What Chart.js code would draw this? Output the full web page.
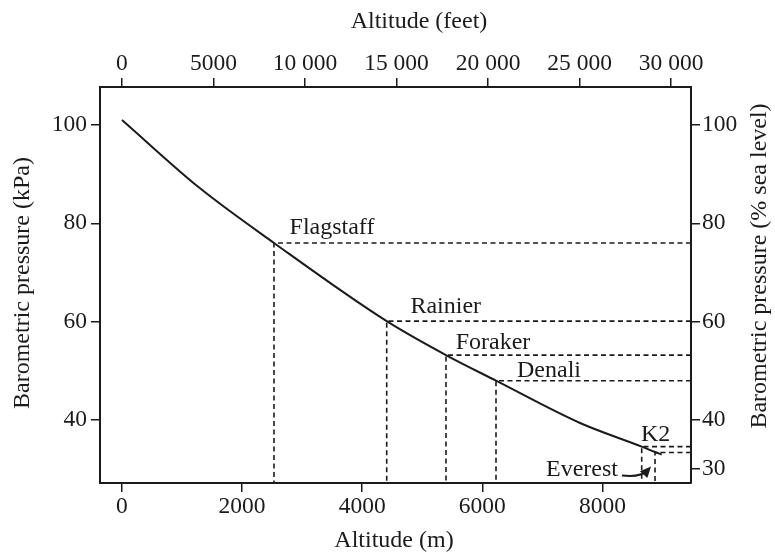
<!DOCTYPE html>
<html lang="en">
<head>
<meta charset="UTF-8">
<title>Barometric pressure vs altitude</title>
<script src="https://cdn.jsdelivr.net/npm/chart.js"></script>
<style>
  body { margin: 0; background: #fff; }
  #wrap { width: 775px; height: 552px; }
</style>
</head>
<body>
<div id="wrap"><canvas id="myChart" width="775" height="552"></canvas></div>
<script>
// curve
const altitudeM = [0, 1300, 2531, 4408, 5395, 6228, 7627, 8654, 8876, 8987];
const pressureKPa = [101.0, 87.1, 76.0, 60.1, 53.2, 48.0, 39.4, 34.6, 33.5, 33.0];

// marked summits
const peakNames = ['Flagstaff', 'Rainier', 'Foraker', 'Denali', 'K2', 'Everest'];
const peakAltM = [2531, 4408, 5395, 6228, 8654, 8876];
const peakKPa = [76.0, 60.1, 53.2, 48.0, 34.6, 33.4];

// tick labels
const ticksM = [0, 2000, 4000, 6000, 8000];
const ticksFeet = [0, 5000, 10000, 15000, 20000, 25000, 30000];
const ticksKPa = [40, 60, 80, 100];
const ticksPct = [30, 40, 60, 80, 100];

const xMin = -366, xMax = 9475;
const yMin = 27.2, yMax = 107.7;
const FT_PER_M = 3.28084;

const ink = '#1b1b1b';
const fontFam = '"Liberation Serif", "Times New Roman", serif';

// label placement relative to each summit corner (px)
const labelOffsets = [
    { dx: 58, dy: -9 },
    { dx: 59, dy: -8 },
    { dx: 47, dy: -6 },
    { dx: 53, dy: -4 },
    { dx: 14, dy: -6 },
    { dx: -73, dy: 23 }
];

function fixTicks(list) {
    return function (scale) {
        scale.ticks = list.map(v => ({ value: v }));
    };
}

function feetLabel(v) {
    const s = String(v);
    return v >= 10000 ? s.slice(0, s.length - 3) + ' ' + s.slice(-3) : s;
}

const peakDatasets = peakNames.map((name, i) => ({
    label: name,
    data: [
        { x: xMax, y: peakKPa[i] },
        { x: peakAltM[i], y: peakKPa[i] },
        { x: peakAltM[i], y: yMin }
    ],
    borderColor: ink,
    borderWidth: 1.6,
    borderDash: [5, 3.5],
    pointRadius: 0,
    fill: false,
    tension: 0,
    xAxisID: 'x',
    yAxisID: 'y'
}));

const textPlugin = {
    id: 'textPlugin',
    afterDraw(chart) {
        const ctx = chart.ctx;
        const x = chart.scales.x, y = chart.scales.y;
        ctx.save();
        ctx.fillStyle = ink;
        ctx.font = '24px ' + fontFam;
        ctx.textAlign = 'center';
        ctx.textBaseline = 'middle';

        // axis titles
        ctx.fillText('Altitude (feet)', 419, 22);
        ctx.fillText('Altitude (m)', 394, 541);

        ctx.save();
        ctx.translate(23, 283);
        ctx.rotate(-Math.PI / 2);
        ctx.fillText('Barometric pressure (kPa)', 0, 0);
        ctx.restore();

        ctx.save();
        ctx.translate(760, 266);
        ctx.rotate(-Math.PI / 2);
        ctx.fillText('Barometric pressure (% sea level)', 0, 0);
        ctx.restore();

        // summit names
        ctx.textBaseline = 'alphabetic';
        peakNames.forEach((name, i) => {
            const px = x.getPixelForValue(peakAltM[i]);
            const py = y.getPixelForValue(peakKPa[i]);
            ctx.fillText(name, px + labelOffsets[i].dx, py + labelOffsets[i].dy);
        });

        // Everest arrow
        const e = peakNames.indexOf('Everest');
        const ex = x.getPixelForValue(peakAltM[e]);
        const ey = y.getPixelForValue(peakKPa[e]);
        const sx = ex - 33, sy = ey + 23;
        const cx = ex - 14, cy = ey + 25;
        const tx = ex - 4, ty = ey + 14;
        ctx.strokeStyle = ink;
        ctx.lineWidth = 2;
        ctx.beginPath();
        ctx.moveTo(sx, sy);
        ctx.quadraticCurveTo(cx, cy, tx - 4, ty + 4);
        ctx.stroke();
        const ang = Math.atan2(ty - cy, tx - cx);
        ctx.beginPath();
        ctx.moveTo(tx, ty);
        ctx.lineTo(tx - 11 * Math.cos(ang) + 5 * Math.sin(ang), ty - 11 * Math.sin(ang) - 5 * Math.cos(ang));
        ctx.lineTo(tx - 11 * Math.cos(ang) - 5 * Math.sin(ang), ty - 11 * Math.sin(ang) + 5 * Math.cos(ang));
        ctx.closePath();
        ctx.fill();
        ctx.restore();
    }
};

const tickFont = { family: fontFam, size: 23.5 };
const gridCfg = { drawOnChartArea: false, drawTicks: true, tickLength: 9, color: ink, lineWidth: 1.5 };
const borderCfg = { display: true, color: ink, width: 2 };

new Chart(document.getElementById('myChart').getContext('2d'), {
    type: 'line',
    data: {
        datasets: [{
            label: 'pressure',
            data: altitudeM.map((a, i) => ({ x: a, y: pressureKPa[i] })),
            borderColor: ink,
            borderWidth: 2,
            pointRadius: 0,
            fill: false,
            cubicInterpolationMode: 'monotone',
            xAxisID: 'x',
            yAxisID: 'y'
        }].concat(peakDatasets)
    },
    options: {
        responsive: false,
        animation: false,
        devicePixelRatio: 1,
        layout: { padding: 0 },
        plugins: { legend: { display: false }, tooltip: { enabled: false } },
        scales: {
            x: {
                type: 'linear', position: 'bottom', min: xMin, max: xMax,
                afterBuildTicks: fixTicks(ticksM),
                afterFit(s) { s.height = 69; },
                grid: gridCfg, border: borderCfg,
                ticks: { font: tickFont, color: ink, padding: 1, maxRotation: 0, callback: v => String(v) }
            },
            xTop: {
                type: 'linear', position: 'top', min: xMin * FT_PER_M, max: xMax * FT_PER_M,
                afterBuildTicks: fixTicks(ticksFeet),
                afterFit(s) { s.height = 87; },
                grid: gridCfg, border: borderCfg,
                ticks: { font: tickFont, color: ink, padding: 0, maxRotation: 0, callback: v => feetLabel(v) }
            },
            y: {
                type: 'linear', position: 'left', min: yMin, max: yMax,
                afterBuildTicks: fixTicks(ticksKPa),
                afterFit(s) { s.width = 100; },
                grid: gridCfg, border: borderCfg,
                ticks: { font: tickFont, color: ink, padding: 4 }
            },
            yRight: {
                type: 'linear', position: 'right', min: yMin, max: yMax,
                afterBuildTicks: fixTicks(ticksPct),
                afterFit(s) { s.width = 84; },
                grid: gridCfg, border: borderCfg,
                ticks: { font: tickFont, color: ink, padding: 2 }
            }
        }
    },
    plugins: [textPlugin]
});
</script>
</body>
</html>
